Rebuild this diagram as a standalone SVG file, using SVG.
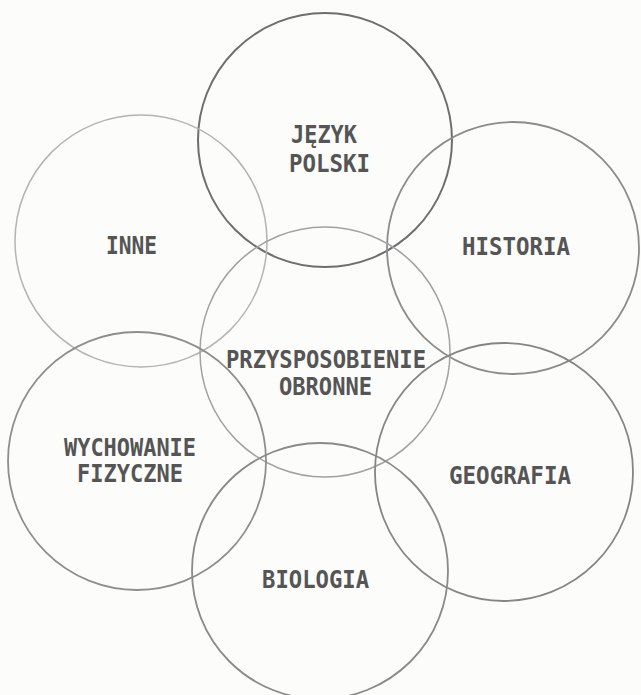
<svg xmlns="http://www.w3.org/2000/svg" width="641" height="695" viewBox="0 0 641 695">
<style>
.c{fill:none;stroke-linecap:round}
.t{font-family:"DejaVu Sans Mono","Liberation Mono",monospace;font-size:24px;font-weight:bold;fill:#555555}
</style>
<rect width="641" height="695" fill="#fcfcfa"/>
<g id="node-jezyk-polski">
<circle class="c" cx="325" cy="140" r="127" stroke="#6e6e6e" stroke-width="2"/>
<text class="t" x="291" y="143" textLength="66" lengthAdjust="spacingAndGlyphs">JĘZYK</text>
<text class="t" x="289" y="172" textLength="81" lengthAdjust="spacingAndGlyphs">POLSKI</text>
</g>
<g id="node-inne">
<circle class="c" cx="141" cy="241" r="126" stroke="#b4b4b4" stroke-width="1.5"/>
<text class="t" x="106" y="254" textLength="51" lengthAdjust="spacingAndGlyphs">INNE</text>
</g>
<g id="node-historia">
<circle class="c" cx="513" cy="248" r="126" stroke="#8c8c8c" stroke-width="1.8"/>
<text class="t" x="462" y="255" textLength="108" lengthAdjust="spacingAndGlyphs">HISTORIA</text>
</g>
<g id="node-przysposobienie">
<circle class="c" cx="325" cy="352" r="125" stroke="#a2a2a2" stroke-width="1.5"/>
<text class="t" x="226" y="368" textLength="200" lengthAdjust="spacingAndGlyphs">PRZYSPOSOBIENIE</text>
<text class="t" x="279" y="395" textLength="93" lengthAdjust="spacingAndGlyphs">OBRONNE</text>
</g>
<g id="node-wychowanie">
<circle class="c" cx="137" cy="461" r="129" stroke="#8e8e8e" stroke-width="1.8"/>
<text class="t" x="64" y="456" textLength="132" lengthAdjust="spacingAndGlyphs">WYCHOWANIE</text>
<text class="t" x="77" y="482" textLength="106" lengthAdjust="spacingAndGlyphs">FIZYCZNE</text>
</g>
<g id="node-geografia">
<circle class="c" cx="504" cy="472" r="129" stroke="#858585" stroke-width="1.8"/>
<text class="t" x="449" y="484" textLength="122" lengthAdjust="spacingAndGlyphs">GEOGRAFIA</text>
</g>
<g id="node-biologia">
<circle class="c" cx="320" cy="571" r="128" stroke="#8a8a8a" stroke-width="1.8"/>
<text class="t" x="262" y="588" textLength="107" lengthAdjust="spacingAndGlyphs">BIOLOGIA</text>
</g>
</svg>
